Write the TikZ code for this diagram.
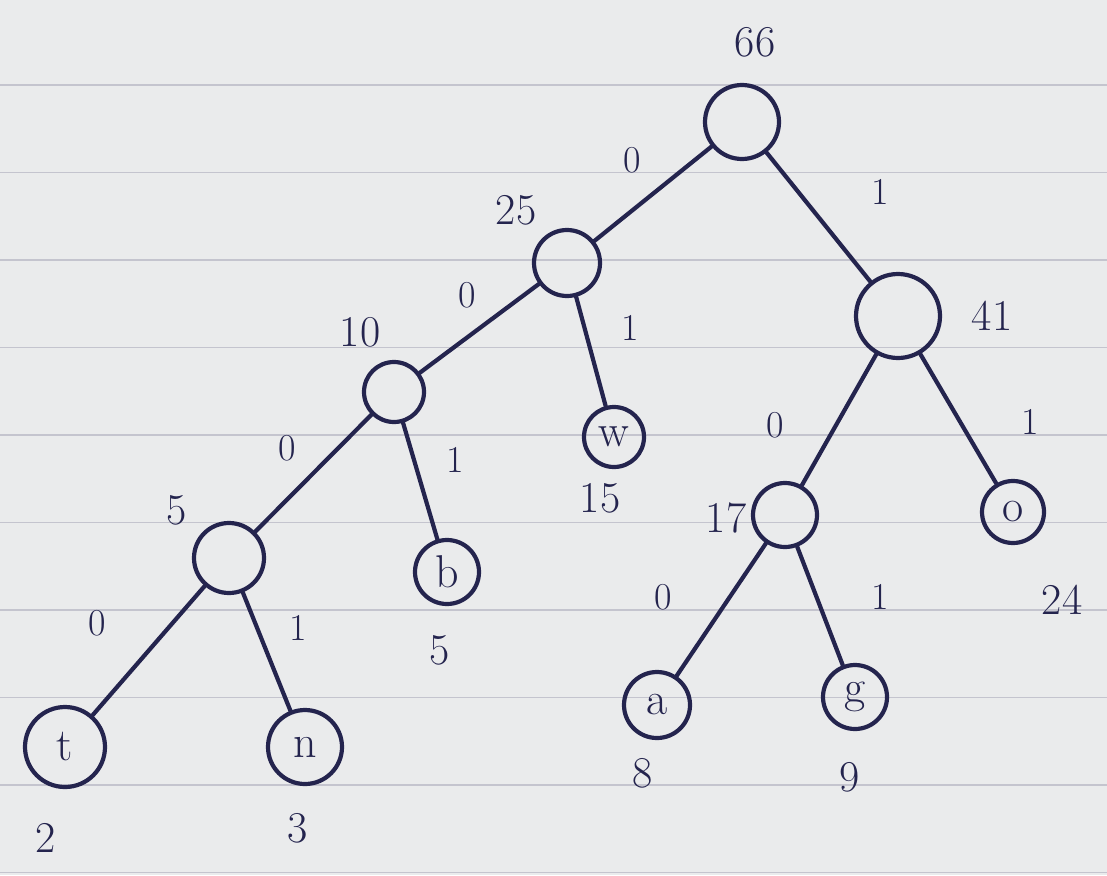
\documentclass[tikz,border=0pt]{standalone}
\usepackage{tikz}
\usetikzlibrary{positioning}
\definecolor{ink}{RGB}{36,36,78}
\definecolor{paper}{RGB}{234,235,236}
\definecolor{ruling}{RGB}{196,196,206}

\begin{document}
\begin{tikzpicture}[x=1pt,y=-1pt,line width=4.2pt,
  vertex/.style={circle,draw=ink,inner sep=0pt,text=ink,
    font=\fontsize{46}{50}\selectfont},
  wgt/.style={text=ink,font=\fontsize{44}{48}\selectfont},
  bit/.style={text=ink,font=\fontsize{38}{42}\selectfont},
  edge/.style={draw=ink,line cap=round}]
  % the ruled sheet
  \fill[paper] (0,0) rectangle (1107,875);
  \useasboundingbox (0,0) rectangle (1107,875);
  \foreach \y in {85,172.5,...,872.5}
    \draw[ruling,line width=1.6pt] (0,\y) -- (1107,\y);

  % inner nodes
  \node[vertex,minimum size=74pt] (root) at (742,122) {};
  \node[vertex,minimum size=66pt] (n25) at (567,263) {};
  \node[vertex,minimum size=84pt] (n41) at (898,316) {};
  \node[vertex,minimum size=60pt] (n10) at (394,392) {};
  \node[vertex,minimum size=64pt] (n17) at (785,515) {};
  \node[vertex,minimum size=70pt] (n5) at (229,558) {};
  % leaves
  \node[vertex,minimum size=80pt] (t) at (65,747) {t};
  \node[vertex,minimum size=74pt] (n) at (305,747) {n};
  \node[vertex,minimum size=64pt] (b) at (447,572) {b};
  \node[vertex,minimum size=60pt] (w) at (614,437) {w};
  \node[vertex,minimum size=66pt] (a) at (657,705) {a};
  \node[vertex,minimum size=64pt] (g) at (855,697) {g};
  \node[vertex,minimum size=62pt] (o) at (1013,512) {o};

  % branches
  \draw[edge] (root) -- (n25);
  \draw[edge] (root) -- (n41);
  \draw[edge] (n25) -- (n10);
  \draw[edge] (n25) -- (w);
  \draw[edge] (n10) -- (n5);
  \draw[edge] (n10) -- (b);
  \draw[edge] (n5) -- (t);
  \draw[edge] (n5) -- (n);
  \draw[edge] (n41) -- (n17);
  \draw[edge] (n41) -- (o);
  \draw[edge] (n17) -- (a);
  \draw[edge] (n17) -- (g);

  % weights
  \node[wgt] (w66) at (755,42) {66};
  \node[wgt] (w25) at (516,210) {25};
  \node[wgt] (w41) at (992,316) {41};
  \node[wgt] (w10) at (360,332) {10};
  \node[wgt] (w17) at (726,518) {17};
  \node[wgt] (w5a) at (177,510) {5};
  \node[wgt] (w15) at (600,498) {15};
  \node[wgt] (w5b) at (440,650) {5};
  \node[wgt] (w2) at (46,838) {2};
  \node[wgt] (w3) at (298,828) {3};
  \node[wgt] (w8) at (643,773) {8};
  \node[wgt] (w9) at (850,777) {9};
  \node[wgt] (w24) at (1062,600) {24};

  % code bits
  \node[bit] (c1) at (632,160) {0};
  \node[bit] (c2) at (880,192) {1};
  \node[bit] (c3) at (467,295) {0};
  \node[bit] (c4) at (630,328) {1};
  \node[bit] (c5) at (287,448) {0};
  \node[bit] (c6) at (455,460) {1};
  \node[bit] (c7) at (775,425) {0};
  \node[bit] (c8) at (1030,422) {1};
  \node[bit] (c9) at (97,623) {0};
  \node[bit] (c10) at (298,628) {1};
  \node[bit] (c11) at (663,597) {0};
  \node[bit] (c12) at (880,597) {1};
\end{tikzpicture}
\end{document}
